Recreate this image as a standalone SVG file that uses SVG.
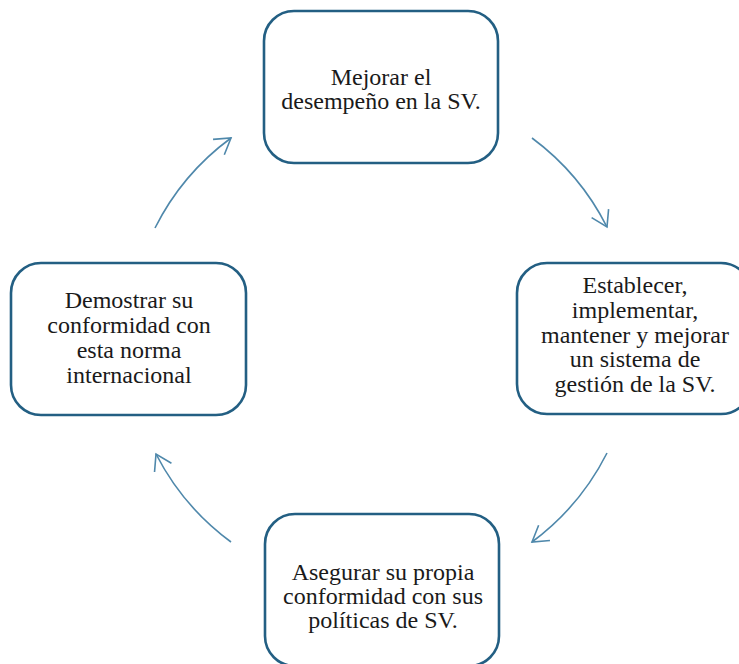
<svg xmlns="http://www.w3.org/2000/svg" width="739" height="664" viewBox="0 0 739 664">
<style>
.box{fill:#ffffff;stroke:#235f83;stroke-width:2.6}
.lbl{font-family:"Liberation Serif","Times New Roman",serif;font-size:24px;fill:#1a1a1a;text-anchor:middle}
.arc{fill:none;stroke:#4f88ab;stroke-width:1.6}
</style>
<defs>
<marker id="ah" markerUnits="userSpaceOnUse" viewBox="-18 -11 20 22" refX="0" refY="0" markerWidth="20" markerHeight="22" orient="auto" overflow="visible">
<path d="M-15.3,-9.5 L0,0 L-15.3,9.5" fill="none" stroke="#4f88ab" stroke-width="1.6"/>
</marker>
</defs>
<rect width="739" height="664" fill="#ffffff"/>
<g id="connectors">
<path class="arc" d="M532,138 A252,252 0 0,1 607,227" marker-end="url(#ah)"/>
<path class="arc" d="M607,453 A252,252 0 0,1 532,542" marker-end="url(#ah)"/>
<path class="arc" d="M231,542 A252,252 0 0,1 156,454" marker-end="url(#ah)"/>
<path class="arc" d="M155,228 A252,252 0 0,1 231,138" marker-end="url(#ah)"/>
</g>
<g id="node-top">
<rect class="box" x="264" y="11" width="234" height="152" rx="30"/>
<text class="lbl" x="381" y="85">Mejorar el</text>
<text class="lbl" x="381" y="109">desempeño en la SV.</text>
</g>
<g id="node-right">
<rect class="box" x="517" y="263" width="234" height="151" rx="30"/>
<text class="lbl" x="635" y="293">Establecer,</text>
<text class="lbl" x="635" y="318">implementar,</text>
<text class="lbl" x="635" y="343">mantener y mejorar</text>
<text class="lbl" x="635" y="367">un sistema de</text>
<text class="lbl" x="635" y="392">gestión de la SV.</text>
</g>
<g id="node-left">
<rect class="box" x="11" y="263" width="235" height="152" rx="30"/>
<text class="lbl" x="129" y="308">Demostrar su</text>
<text class="lbl" x="129" y="333">conformidad con</text>
<text class="lbl" x="129" y="358">esta norma</text>
<text class="lbl" x="129" y="383">internacional</text>
</g>
<g id="node-bottom">
<rect class="box" x="265" y="514" width="234" height="152" rx="30"/>
<text class="lbl" x="383" y="580">Asegurar su propia</text>
<text class="lbl" x="383" y="604">conformidad con sus</text>
<text class="lbl" x="383" y="628">políticas de SV.</text>
</g>
</svg>
